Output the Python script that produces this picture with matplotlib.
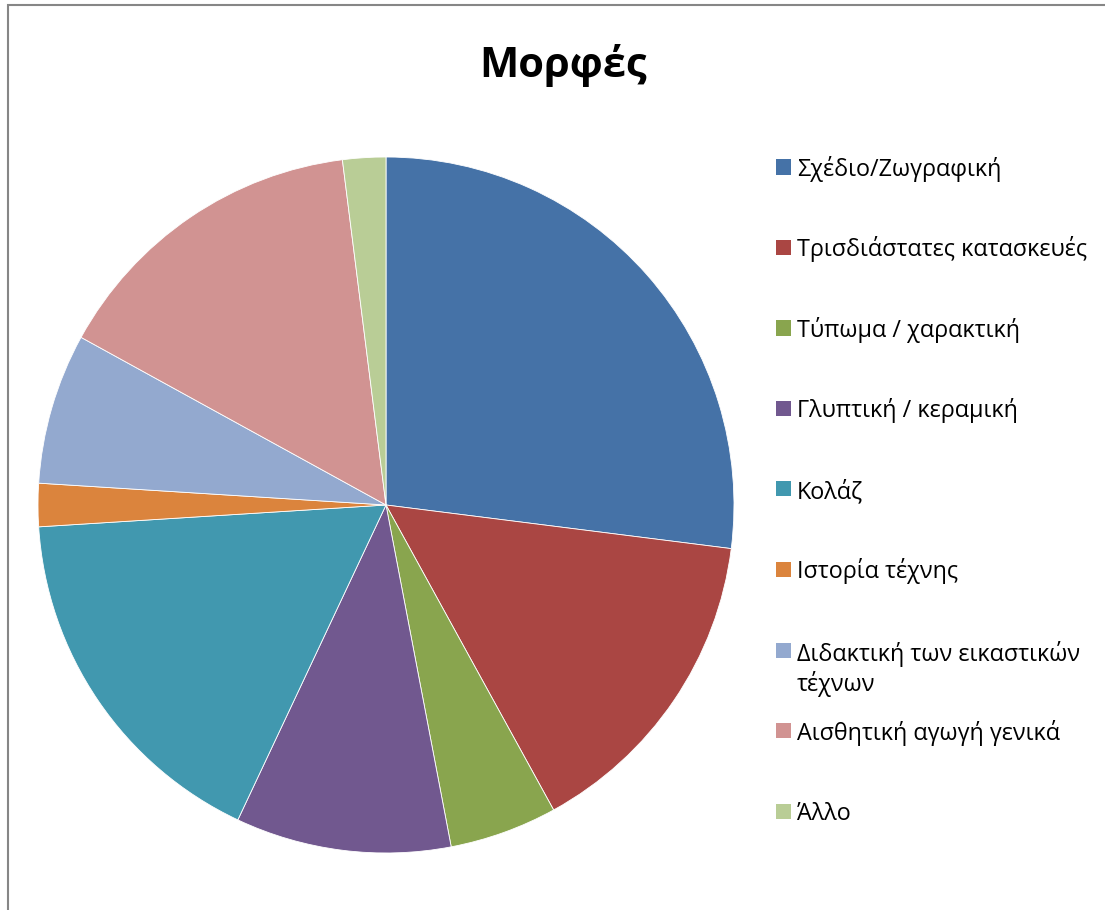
import matplotlib
matplotlib.use("Agg")
import matplotlib.pyplot as plt
from matplotlib.patches import Rectangle

title = "Μορφές"
categories = ["Σχέδιο/Ζωγραφική", "Τρισδιάστατες κατασκευές", "Τύπωμα / χαρακτική",
              "Γλυπτική / κεραμική", "Κολάζ", "Ιστορία τέχνης",
              "Διδακτική των εικαστικών\nτέχνων", "Αισθητική αγωγή γενικά", "Άλλο"]
values = [27, 15, 5, 10, 17, 2, 7, 15, 2]
colors = ["#4572A7", "#AA4643", "#89A54E", "#71588F", "#4198AF",
          "#DB843D", "#93A9CF", "#D19392", "#B9CD96"]

W, H = 1105, 910
fig = plt.figure(figsize=(W / 100, H / 100), dpi=100)
plt.rcParams['font.family'] = ['Open Sans', 'DejaVu Sans']

# outer frame
fig.patches.append(Rectangle((7.5 / W, -0.1), 1.2, (H - 5.5) / H + 0.1, transform=fig.transFigure,
                             fill=False, edgecolor="#868686", linewidth=1.5))

cx, cy, r = 386, 505, 348
ax = fig.add_axes([(cx - r) / W, (H - cy - r) / H, 2 * r / W, 2 * r / H])
ax.pie(values, colors=colors, startangle=90, counterclock=False, radius=1,
       wedgeprops=dict(linewidth=0.6, edgecolor="white"))
ax.set_xlim(-1, 1)
ax.set_ylim(-1, 1)
ax.set_aspect("equal")
ax.axis("off")

fig.text(563 / W, 1 - 77 / H, title, ha="center", va="baseline", fontsize=30, fontweight="bold")

y0, step, line_h = 167, 80.5, 32
for i, (lab, col) in enumerate(zip(categories, colors)):
    y = y0 + i * step
    fig.patches.append(Rectangle((776 / W, 1 - (y + 7.5) / H), 15 / W, 15 / H,
                                 transform=fig.transFigure, facecolor=col, edgecolor="none"))
    extra = lab.count("\n") * line_h
    fig.text(797 / W, 1 - (y + 9 + extra) / H, lab, ha="left", va="baseline", fontsize=16.8,
             linespacing=1.22)

fig.savefig("out.png", dpi=100, facecolor="white")
